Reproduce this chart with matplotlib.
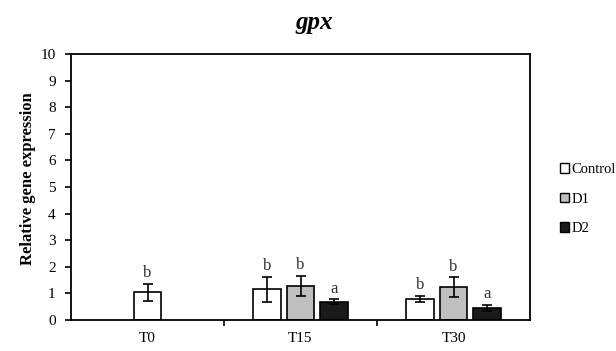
import matplotlib
matplotlib.use("Agg")
import matplotlib.pyplot as plt
from matplotlib.patches import Patch

plt.rcParams['font.family'] = ['Liberation Serif', 'DejaVu Serif']

groups = ['T0', 'T15', 'T30']
series = ['Control', 'D1', 'D2']
colors = ['white', '#bfbfbf', '#1a1a1a']

# values per series (None = no bar)
control = [1.04, 1.16, 0.79]
control_err = [0.31, 0.47, 0.12]
control_lbl = ['b', 'b', 'b']
d1 = [None, 1.29, 1.23]
d1_err = [None, 0.37, 0.38]
d1_lbl = [None, 'b', 'b']
d2 = [None, 0.69, 0.46]
d2_err = [None, 0.09, 0.12]
d2_lbl = [None, 'a', 'a']

fig = plt.figure(figsize=(6.16, 3.51), dpi=100)
ax = fig.add_axes([71/616, 1 - 320/351, (530-71)/616, (320-54)/351])

width = 0.18
step = 0.22
data = [(control, control_err, control_lbl), (d1, d1_err, d1_lbl), (d2, d2_err, d2_lbl)]
for k, (vals, errs, lbls) in enumerate(data):
    for i, v in enumerate(vals):
        if v is None:
            continue
        # T0 has only the control bar, drawn in the middle of the group
        off = 0 if i == 0 else (k - 1) * step
        x = i + off
        ax.bar(x, v, width, color=colors[k], edgecolor='black', linewidth=1.2, zorder=2)
        ax.errorbar(x, v, yerr=errs[i], fmt='none', ecolor='black', elinewidth=1.2,
                    capsize=3.5, capthick=1.2, zorder=3)
        ax.text(x, v + errs[i] + 0.1, lbls[i], ha='center', va='bottom', fontsize=12, color='#333333')

ax.set_xlim(-0.5, 2.5)
ax.set_ylim(0, 10)
ax.set_yticks(range(0, 11))
ax.set_xticks(range(3))
ax.set_xticklabels(groups)
ax.set_xticks([0.5, 1.5], minor=True)
ax.tick_params(axis='x', which='major', length=0, pad=9, labelsize=11)
ax.tick_params(axis='x', which='minor', length=4, direction='out', width=1.2)
ax.tick_params(axis='y', length=4, direction='out', width=1.2, labelsize=11, pad=7)
for s in ax.spines.values():
    s.set_linewidth(1.3)
ax.set_ylabel('Relative gene expression', fontsize=12, fontweight='bold')
ax.yaxis.set_label_coords(-0.076, 0.53)
fig.text(314/616, 1 - 23/351, 'gpx', ha='center', va='center', fontsize=18,
         fontweight='bold', style='italic')

handles = [Patch(facecolor=c, edgecolor='black', linewidth=1) for c in colors]
fig.legend(handles, series, loc='upper left', bbox_to_anchor=(554/616, 1 - 157/351),
           frameon=False, fontsize=10.5, handlelength=0.65, handleheight=0.65,
           handletextpad=0.15, labelspacing=1.15, borderaxespad=0)

fig.savefig('out.png', dpi=100)
